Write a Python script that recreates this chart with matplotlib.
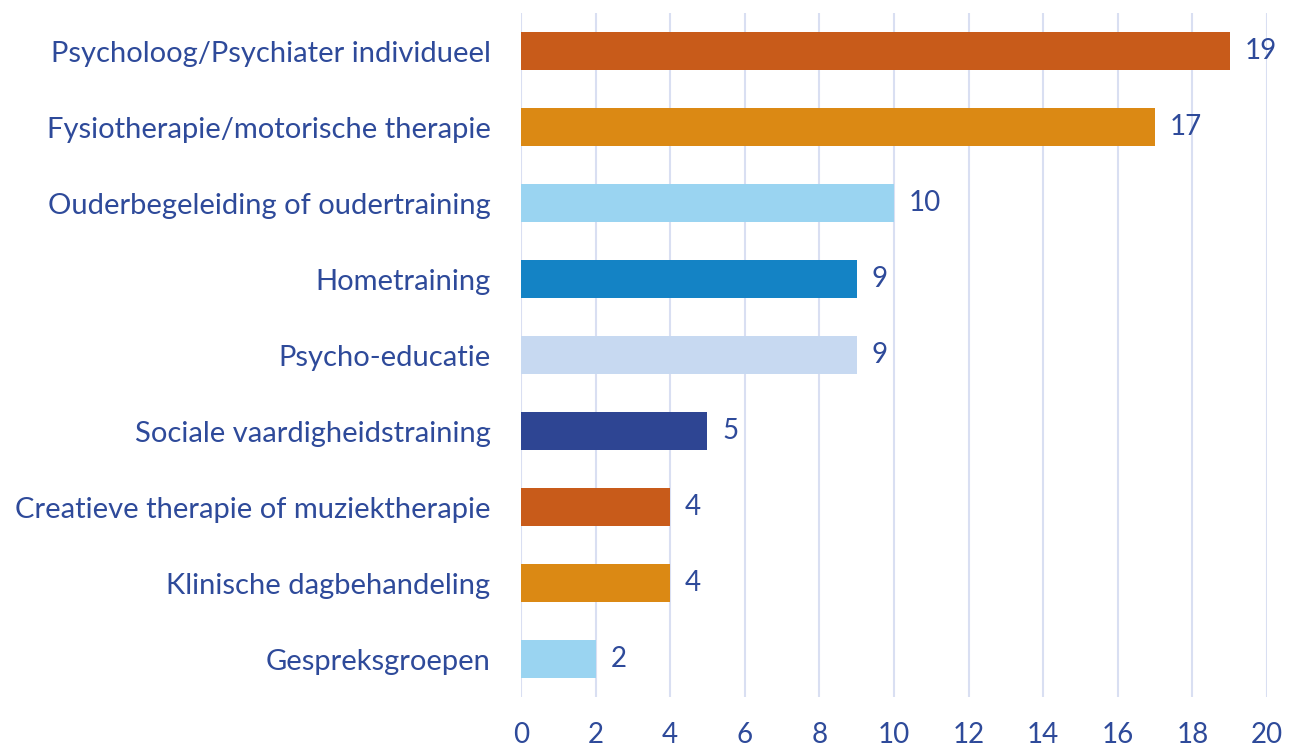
import matplotlib
matplotlib.use("Agg")
import matplotlib.pyplot as plt

categories = [
    "Psycholoog/Psychiater individueel",
    "Fysiotherapie/motorische therapie",
    "Ouderbegeleiding of oudertraining",
    "Hometraining",
    "Psycho-educatie",
    "Sociale vaardigheidstraining",
    "Creatieve therapie of muziektherapie",
    "Klinische dagbehandeling",
    "Gespreksgroepen",
]
values = [19, 17, 10, 9, 9, 5, 4, 4, 2]
colors = ["#C85B1A", "#DB8914", "#9AD4F1", "#1483C5", "#C7D9F1",
          "#2E4593", "#C85B1A", "#DB8914", "#9AD4F1"]

TXT = "#2E4A9A"
plt.rcParams["font.family"] = ["Lato", "DejaVu Sans"]

fig = plt.figure(figsize=(12.96, 7.48), dpi=100)
ax = fig.add_axes([0.402, 0.068, 0.5756, 0.9146])

y = list(range(len(categories)))
ax.barh(y, values, height=0.5, color=colors, zorder=2)
for yi, v in zip(y, values):
    ax.text(v + 0.4, yi, str(v), va="center", ha="left", fontsize=20, color=TXT)

ax.set_ylim(len(categories) - 0.5, -0.5)
ax.set_xlim(0, 20)
ax.set_xticks(range(0, 21, 2))
ax.set_yticks(y)
ax.set_yticklabels(categories)
ax.tick_params(axis="y", length=0, labelsize=21, labelcolor=TXT, pad=22)
ax.tick_params(axis="x", length=0, labelsize=20, labelcolor=TXT, pad=18)
ax.grid(axis="x", color="#D9DFF2", lw=1.5, zorder=0)
for s in ax.spines.values():
    s.set_visible(False)

fig.savefig("out.png", dpi=100)
